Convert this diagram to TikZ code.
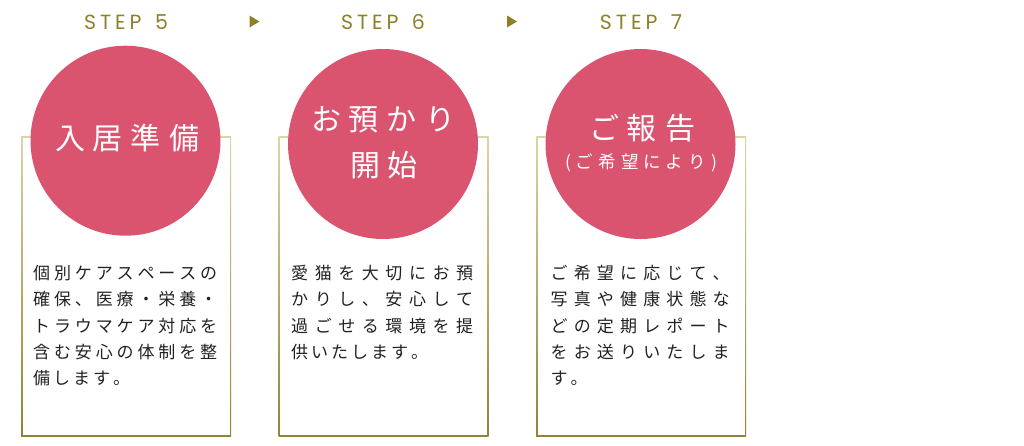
\documentclass[tikz,border=0pt]{standalone}
\usepackage{fontspec}
\usepackage{xcolor}
\usepackage{tikz}
\usetikzlibrary{positioning}
\newfontfamily\jpfont{Noto Sans CJK JP}
\newfontfamily\stepfont{Poppins}
\definecolor{rosered}{RGB}{218,84,111}
\definecolor{stepolive}{RGB}{140,128,40}
\definecolor{bordertop}{RGB}{218,212,168}
\definecolor{borderbot}{RGB}{143,132,56}
\definecolor{bodyink}{RGB}{34,34,34}
% letter spacing by hand: \trk goes between two letters
\def\trackfirst#1{#1\trackrest}
\def\trackrest#1{\ifx\relax#1\else\trk#1\expandafter\trackrest\fi}
\newcommand\tracked[2]{\hbox{\def\trk{\hskip#1pt}\expandafter\trackfirst#2\relax}}
\newcommand\spreadline[2]{\hbox to #1pt{\def\trk{\hfil}\expandafter\trackfirst#2\relax}}

\begin{document}
\begin{tikzpicture}[x=1pt, y=-1pt,
    stepnum/.style={text=stepolive, font=\stepfont\fontsize{20.5}{20.5}\selectfont, inner sep=0},
    bubble/.style={circle, fill=rosered, minimum size=190pt, inner sep=0},
    bubbletext/.style={text=white, font=\jpfont\fontsize{30}{30}\selectfont, inner sep=0},
    bubblesmall/.style={text=white, font=\jpfont\fontsize{17.5}{17.5}\selectfont, inner sep=0},
    bodyline/.style={anchor=base west, text=bodyink, font=\jpfont\fontsize{17}{17}\selectfont, inner sep=0}]
    \useasboundingbox (0,0) rectangle (1024,445);
    % frames
    \foreach \x in {0,257.5,515} {
        \shade[xshift=\x pt, top color=bordertop, bottom color=borderbot] (21,136.5) rectangle (231,436);
        \fill[xshift=\x pt, white] (22.5,138) rectangle (229.5,434.5);
    }
    % circles
    \node[bubble] (circ5) at (125.5,140.7) {};
    \node[bubble] (circ6) at (383,144) {};
    \node[bubble] (circ7) at (640.5,144) {};
    % step labels and markers
    \node[stepnum] (step5) at (126,22) {\tracked{4}{STEP\ 5}};
    \node[stepnum] (step6) at (383,22) {\tracked{4}{STEP\ 6}};
    \node[stepnum] (step7) at (641,22) {\tracked{4}{STEP\ 7}};
    \foreach \x in {0,257.5}
        \fill[xshift=\x pt, stepolive] (249.5,15.5) -- (259.5,21.5) -- (249.5,27.5) -- cycle;
    % titles
    \node[bubbletext] (title5) at (127,138) {\tracked{8}{入居準備}};
    \node[bubbletext] (title6a) at (383,120) {\tracked{8}{お預かり}};
    \node[bubbletext] (title6b) at (384,165) {\tracked{8}{開始}};
    \node[bubbletext] (title7a) at (642,128) {\tracked{8}{ご報告}};
    \node[bubblesmall] (title7b) at (641,163) {\tracked{5}{(ご希望により)}};
    % body texts
    \foreach \row [count=\n] in {個別ケアスペースの,確保、医療・栄養・,トラウマケア対応を,含む安心の体制を整}
        \node[bodyline] (body5-\n) at (33,{279.5+26.3*(\n-1)}) {\spreadline{184}{\row}};
    \node[bodyline] (body5-5) at (33,{279.5+26.3*4}) {\tracked{3}{備します。}};
    \foreach \row [count=\n] in {愛猫を大切にお預,かりし、安心して,過ごせる環境を提}
        \node[bodyline] (body6-\n) at (291,{279.5+26.3*(\n-1)}) {\spreadline{182}{\row}};
    \node[bodyline] (body6-4) at (291,{279.5+26.3*3}) {\tracked{3}{供いたします。}};
    \foreach \row [count=\n] in {ご希望に応じて、,写真や健康状態な,どの定期レポート,をお送りいたしま}
        \node[bodyline] (body7-\n) at (550.5,{279.5+26.3*(\n-1)}) {\spreadline{179}{\row}};
    \node[bodyline] (body7-5) at (550.5,{279.5+26.3*4}) {\tracked{3}{す。}};
\end{tikzpicture}
\end{document}
